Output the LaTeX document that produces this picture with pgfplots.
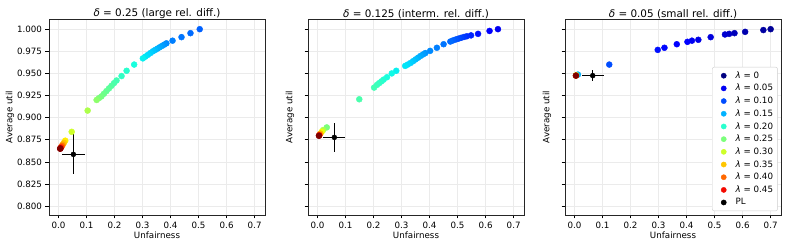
\documentclass[border=0pt]{standalone}
\usepackage{pgfplots}
\usepackage{pgfplotstable}
\pgfplotsset{compat=1.18}
\usepackage{fontspec}
\setmainfont{DejaVu Sans}

\definecolor{L00}{rgb}{0,0,0.5}
\definecolor{L05}{rgb}{0,0,0.955}
\definecolor{L10}{rgb}{0,0.3,1}
\definecolor{L15}{rgb}{0,0.7,1}
\definecolor{L20}{rgb}{0.161,1,0.806}
\definecolor{L25}{rgb}{0.484,1,0.484}
\definecolor{L30}{rgb}{0.806,1,0.161}
\definecolor{L35}{rgb}{1,0.778,0}
\definecolor{L40}{rgb}{1,0.407,0}
\definecolor{L45}{rgb}{0.955,0.037,0}

\pgfplotstableread{
x y l
0.504 1.000 0.110
0.471 0.9955 0.115
0.439 0.991 0.120
0.407 0.987 0.125
0.385 0.984 0.130
0.377 0.9825 0.135
0.369 0.981 0.140
0.361 0.9795 0.145
0.353 0.978 0.150
0.345 0.9765 0.155
0.337 0.975 0.160
0.328 0.973 0.165
0.319 0.971 0.170
0.310 0.969 0.175
0.301 0.967 0.180
0.270 0.960 0.190
0.243 0.953 0.200
0.225 0.947 0.205
0.207 0.942 0.215
0.198 0.939 0.220
0.189 0.936 0.225
0.180 0.933 0.230
0.171 0.930 0.235
0.162 0.927 0.240
0.153 0.924 0.245
0.144 0.922 0.250
0.136 0.920 0.260
0.104 0.908 0.280
0.047 0.884 0.300
0.024 0.874 0.330
0.019 0.8715 0.350
0.015 0.8695 0.370
0.012 0.868 0.400
0.009 0.8665 0.430
0.007 0.8655 0.460
0.006 0.865 0.480
0.006 0.865 0.500
}\tabA

\pgfplotstableread{
x y l
0.644 1.000 0.050
0.614 0.998 0.060
0.573 0.9947 0.070
0.548 0.993 0.080
0.533 0.992 0.085
0.523 0.9912 0.090
0.513 0.9903 0.095
0.503 0.9893 0.100
0.493 0.9883 0.105
0.483 0.9872 0.110
0.474 0.986 0.115
0.450 0.983 0.120
0.426 0.979 0.125
0.402 0.9755 0.130
0.385 0.973 0.135
0.377 0.9715 0.140
0.368 0.9698 0.145
0.359 0.9678 0.150
0.350 0.9658 0.155
0.341 0.9638 0.160
0.332 0.9618 0.165
0.322 0.9600 0.170
0.313 0.9585 0.175
0.281 0.953 0.180
0.265 0.950 0.185
0.248 0.9457 0.190
0.236 0.943 0.195
0.228 0.941 0.200
0.220 0.939 0.205
0.212 0.937 0.210
0.202 0.934 0.215
0.149 0.9208 0.220
0.033 0.889 0.250
0.020 0.886 0.280
0.015 0.884 0.320
0.010 0.882 0.360
0.007 0.8805 0.400
0.006 0.880 0.450
0.005 0.8795 0.500
}\tabB

\pgfplotstableread{
x y l
0.700 1.000 0.010
0.674 0.999 0.015
0.609 0.997 0.020
0.571 0.9955 0.025
0.552 0.9947 0.030
0.537 0.994 0.035
0.486 0.991 0.040
0.442 0.988 0.045
0.419 0.987 0.050
0.403 0.9857 0.055
0.365 0.983 0.060
0.321 0.979 0.065
0.297 0.9766 0.070
0.124 0.960 0.100
0.012 0.9487 0.150
0.006 0.948 0.300
0.005 0.9475 0.400
0.005 0.9475 0.500
}\tabC

\pgfplotsset{
  colormap={mpljet}{rgb(0pt)=(0,0,0.5); rgb(22pt)=(0,0,1); rgb(25pt)=(0,0,1);
    rgb(68pt)=(0,0.86,1); rgb(70pt)=(0,0.9,0.968); rgb(75pt)=(0.081,1,0.887);
    rgb(128pt)=(0.935,1,0.032); rgb(130pt)=(0.968,0.963,0); rgb(132pt)=(1,0.926,0);
    rgb(178pt)=(1,0.074,0); rgb(182pt)=(0.909,0,0); rgb(200pt)=(0.5,0,0)},
  myax/.style={
    scale only axis, width=216bp, height=196bp,
    xmin=-0.034, xmax=0.737, ymin=0.79, ymax=1.0115,
    xtick={0,0.1,0.2,0.3,0.4,0.5,0.6,0.7},
    ytick={0.8,0.825,0.85,0.875,0.9,0.925,0.95,0.975,1.0},
    xticklabel style={/pgf/number format/.cd, fixed, fixed zerofill, precision=1},
    yticklabel style={/pgf/number format/.cd, fixed, fixed zerofill, precision=3},
    /pgf/number format/assume math mode=true,
    grid=major, grid style={color=black!8, line width=0.6bp},
    axis line style={black!85, line width=0.8bp},
    tick align=outside, major tick length=3.5bp,
    tick style={black, line width=0.8bp},
    xtick pos=left, ytick pos=left,
    xlabel={Unfairness}, ylabel={Average util},
    xlabel shift=-4bp,
    tick label style={font=\fontsize{8.7bp}{10bp}\selectfont},
    label style={font=\fontsize{8.7bp}{10bp}\selectfont},
    title style={font=\fontsize{10.4bp}{12bp}\selectfont, yshift=-9bp},
    colormap name=mpljet, point meta min=0, point meta max=0.5,
  },
  pts/.style={scatter, only marks, mark=*, mark size=3bp,
    scatter/use mapped color={draw=mapped color, fill=mapped color},
    point meta=\thisrow{l}, forget plot},
  pl/.style={black, mark=*, mark size=2.5bp, forget plot,
    error bars/.cd, x dir=both, y dir=both, x explicit, y explicit,
    error mark=none, error bar style={line width=1.4bp, black}},
  lg/.style={only marks, mark=*, mark size=2.6bp, #1,
    legend image code/.code={\path[draw=none,fill=none] (0bp,0bp) -- (19bp,0bp);
      \draw[##1] plot coordinates {(9bp,0bp)};}},
}

\begin{document}
\begin{tikzpicture}
\useasboundingbox (-49bp,-33bp) rectangle (740bp,215bp);

\begin{axis}[myax, at={(0bp,0bp)}, anchor=south west, ylabel shift=-4bp,
  title={\textit{δ} = 0.25 (large rel. diff.)}]
\addplot[pts] table {\tabA};
\addplot[pl] coordinates {(0.053,0.8585) +- (0.040,0.0226)};
\end{axis}

\begin{axis}[myax, at={(259bp,0bp)}, anchor=south west, yticklabels={},
  title={\textit{δ} = 0.125 (interm. rel. diff.)}]
\addplot[pts] table {\tabB};
\addplot[pl] coordinates {(0.060,0.8777) +- (0.039,0.016)};
\end{axis}

\begin{axis}[myax, at={(516bp,0bp)}, anchor=south west, yticklabels={},
  title={\textit{δ} = 0.05 (small rel. diff.)},
  legend cell align=left,
  legend style={at={(0.985,0.02)}, anchor=south east,
    font=\fontsize{8.7bp}{10bp}\selectfont,
    draw=black!20, rounded corners=2bp, row sep=0.6bp, inner sep=2.5bp}]
\addplot[pts] table {\tabC};
\addplot[pl] coordinates {(0.065,0.9475) +- (0.040,0.006)};
\addlegendimage{lg={L00}}\addlegendentry{\textit{λ} = 0}
\addlegendimage{lg={L05}}\addlegendentry{\textit{λ} = 0.05}
\addlegendimage{lg={L10}}\addlegendentry{\textit{λ} = 0.10}
\addlegendimage{lg={L15}}\addlegendentry{\textit{λ} = 0.15}
\addlegendimage{lg={L20}}\addlegendentry{\textit{λ} = 0.20}
\addlegendimage{lg={L25}}\addlegendentry{\textit{λ} = 0.25}
\addlegendimage{lg={L30}}\addlegendentry{\textit{λ} = 0.30}
\addlegendimage{lg={L35}}\addlegendentry{\textit{λ} = 0.35}
\addlegendimage{lg={L40}}\addlegendentry{\textit{λ} = 0.40}
\addlegendimage{lg={L45}}\addlegendentry{\textit{λ} = 0.45}
\addlegendimage{lg={black}}\addlegendentry{PL}
\end{axis}
\end{tikzpicture}
\end{document}
